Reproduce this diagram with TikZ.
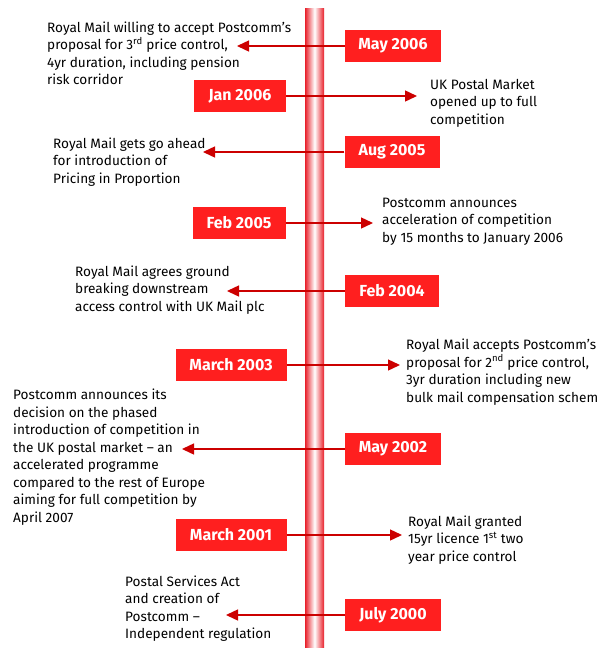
\documentclass[tikz,border=0pt]{standalone}
\usepackage{fontspec}
\setmainfont{Fira Sans}
\usetikzlibrary{arrows.meta}
\definecolor{boxred}{HTML}{FF1F1F}
\definecolor{linered}{HTML}{CC0000}
\definecolor{barred}{HTML}{E8202A}
\tikzset{
  datebox/.style={fill=boxred, text=white, font=\bfseries\fontsize{16}{18}\selectfont,
    minimum height=32pt, inner sep=0pt},
  evtext/.style={anchor=base west, align=left, inner sep=0pt,
    font=\fontsize{13.6}{17.5}\selectfont},
  conn/.style={draw=linered, line width=1.4pt, -{Triangle[length=12pt,width=11pt]}}
}
\begin{document}
\begin{tikzpicture}[x=1pt,y=-1pt]
\useasboundingbox (0,0) rectangle (599,648);
% central bar
\shade[left color=barred, right color=barred, middle color=white] (305,8) rectangle (324,648);
% date boxes
\node[datebox, minimum width=96pt] (d06may) at (393,46) {May 2006};
\node[datebox, minimum width=92pt] (d06jan) at (240,96) {Jan 2006};
\node[datebox, minimum width=95pt] (d05aug) at (392,152) {Aug 2005};
\node[datebox, minimum width=93pt] (d05feb) at (239,223) {Feb 2005};
\node[datebox, minimum width=94pt] (d04feb) at (392,291) {Feb 2004};
\node[datebox, minimum width=111pt] (d03mar) at (231,365) {March 2003};
\node[datebox, minimum width=96pt] (d02may) at (393,449) {May 2002};
\node[datebox, minimum width=111pt] (d01mar) at (231,535) {March 2001};
\node[datebox, minimum width=96pt] (d00jul) at (393,615) {July 2000};
% arrow end points
\coordinate (t06may) at (237,46);
\coordinate (t06jan) at (417,96);
\coordinate (t05aug) at (203,152);
\coordinate (t05feb) at (373,223);
\coordinate (t04feb) at (227,291);
\coordinate (t03mar) at (400,365);
\coordinate (t02may) at (182,449);
\coordinate (t01mar) at (402,535);
\coordinate (t00jul) at (226,615);
\draw[conn] (d06may.west) -- (t06may);
\draw[conn] (d06jan.east) -- (t06jan);
\draw[conn] (d05aug.west) -- (t05aug);
\draw[conn] (d05feb.east) -- (t05feb);
\draw[conn] (d04feb.west) -- (t04feb);
\draw[conn] (d03mar.east) -- (t03mar);
\draw[conn] (d02may.west) -- (t02may);
\draw[conn] (d01mar.east) -- (t01mar);
\draw[conn] (d00jul.west) -- (t00jul);
% texts (anchored at the baseline of their last line)
\node[evtext] (e06may) at (47,84.5) {Royal Mail willing to accept Postcomm's\\proposal for 3\textsuperscript{rd} price control,\\4yr duration, including pension\\risk corridor};
\node[evtext] (e06jan) at (430,124) {UK Postal Market\\opened up to full\\competition};
\node[evtext] (e05aug) at (53,183) {Royal Mail gets go ahead\\for introduction of\\Pricing in Proportion};
\node[evtext] (e05feb) at (382,242) {Postcomm announces\\acceleration of competition\\by 15 months to January 2006};
\node[evtext] (e04feb) at (75,311) {Royal Mail agrees ground\\breaking downstream\\access control with UK Mail plc};
\node[evtext] (e03mar) at (406,402) {Royal Mail accepts Postcomm's\\proposal for 2\textsuperscript{nd} price control,\\3yr duration including new\\bulk mail compensation scheme};
\node[evtext] (e02may) at (13,522) {Postcomm announces its\\decision on the phased\\introduction of competition in\\the UK postal market -- an\\accelerated programme\\compared to the rest of Europe\\aiming for full competition by\\April 2007};
\node[evtext] (e01mar) at (408,561) {Royal Mail granted\\15yr licence 1\textsuperscript{st} two\\year price control};
\node[evtext] (e00jul) at (125,638.5) {Postal Services Act\\and creation of\\Postcomm --\\Independent regulation};
\end{tikzpicture}
\end{document}
